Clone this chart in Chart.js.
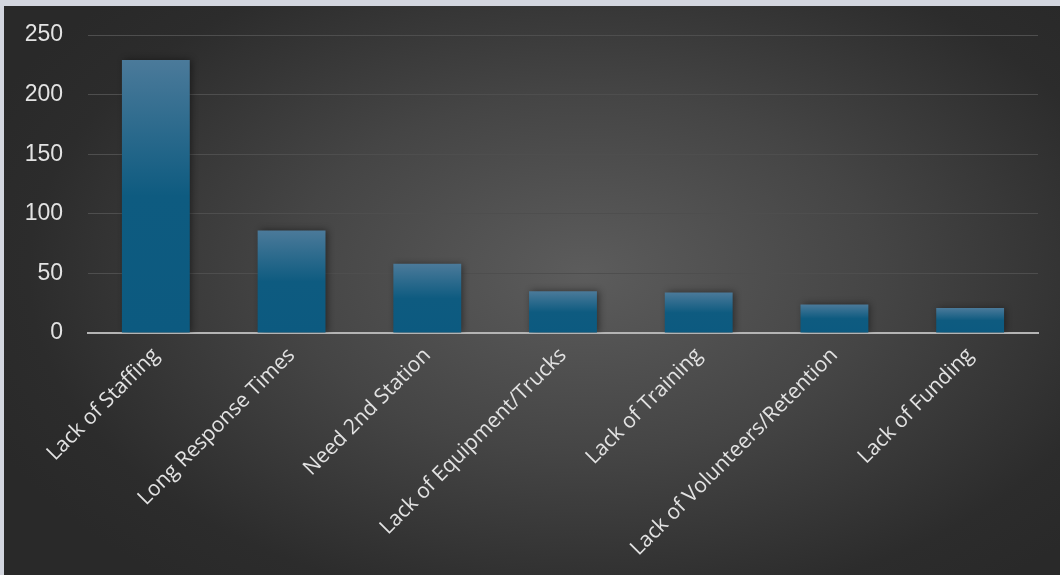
<!DOCTYPE html>
<html>
<head>
<meta charset="utf-8">
<script src="https://cdn.jsdelivr.net/npm/chart.js@4"></script>
<style>
  html, body { margin: 0; padding: 0; }
  body { width: 1060px; height: 575px; background: #d3d6df; overflow: hidden; }
  #page {
    position: absolute; left: 4px; top: 6px; width: 1056px; height: 569px;
    background: radial-gradient(ellipse 62% 70% at 55% 47%, #5c5c5c 0%, #454545 45%, #2c2c2c 85%, #292929 100%);
  }
</style>
</head>
<body>
<div id="page"><canvas id="chart" width="1056" height="569"></canvas></div>
<script>
const categories = [
    "Lack of Staffing",
    "Long Response Times",
    "Need 2nd Station",
    "Lack of Equipment/Trucks",
    "Lack of Training",
    "Lack of Volunteers/Retention",
    "Lack of Funding"
];
const counts = [229, 86, 58, 35, 34, 24, 21];
const yTicks = [0, 50, 100, 150, 200, 250];

// light top fading into the darker blue halfway down each bar
function barFill(context) {
    const chart = context.chart;
    const yScale = chart.scales.y;
    if (!chart.chartArea || !yScale || context.raw === undefined) return "#0e5b80";
    const top = yScale.getPixelForValue(context.raw);
    const bottom = yScale.getPixelForValue(0);
    if (!isFinite(top) || bottom - top < 1) return "#0e5b80";
    const g = chart.ctx.createLinearGradient(0, top, 0, bottom);
    g.addColorStop(0, "#4b7a9a");
    g.addColorStop(0.5, "#0e5b80");
    g.addColorStop(1, "#0c5a80");
    return g;
}

const shadowPlugin = {
    id: "shadow",
    beforeDatasetsDraw(chart) {
        const ctx = chart.ctx;
        ctx.save();
        ctx.shadowColor = "rgba(0,0,0,0.45)";
        ctx.shadowBlur = 7;
        ctx.shadowOffsetX = 2;
        ctx.shadowOffsetY = 0;
    },
    afterDatasetsDraw(chart) {
        chart.ctx.restore();
    }
};

new Chart(document.getElementById("chart"), {
    type: "bar",
    data: {
        labels: categories,
        datasets: [{
            data: counts,
            backgroundColor: barFill,
            borderWidth: 0,
            categoryPercentage: 1.0,
            barPercentage: 0.5
        }]
    },
    plugins: [shadowPlugin],
    options: {
        responsive: false,
        animation: false,
        layout: { padding: { top: 29, right: 22, left: 0, bottom: 0 } },
        plugins: {
            legend: { display: false },
            tooltip: { enabled: false }
        },
        scales: {
            x: {
                grid: { display: false },
                border: { color: "#b4b4b4", width: 2 },
                ticks: {
                    color: "#e2e2e2",
                    font: { family: "Open Sans", size: 21 },
                    maxRotation: 45,
                    minRotation: 45,
                    padding: 2
                },
                afterFit(scale) {
                    scale.height = 242;
                    scale.paddingTop = 0;
                    scale.paddingBottom = 0;
                }
            },
            y: {
                min: 0,
                max: 250,
                afterBuildTicks(scale) { scale.ticks = yTicks.map(v => ({ value: v })); },
                grid: { color: "#4e4e4e", lineWidth: 1, drawTicks: false },
                border: { display: false },
                ticks: {
                    color: "#e2e2e2",
                    font: { family: "Liberation Sans", size: 23 },
                    padding: 25
                },
                afterFit(scale) {
                    scale.width = 84;
                    scale.paddingTop = 0;
                    scale.paddingBottom = 0;
                }
            }
        }
    }
});
</script>
</body>
</html>
